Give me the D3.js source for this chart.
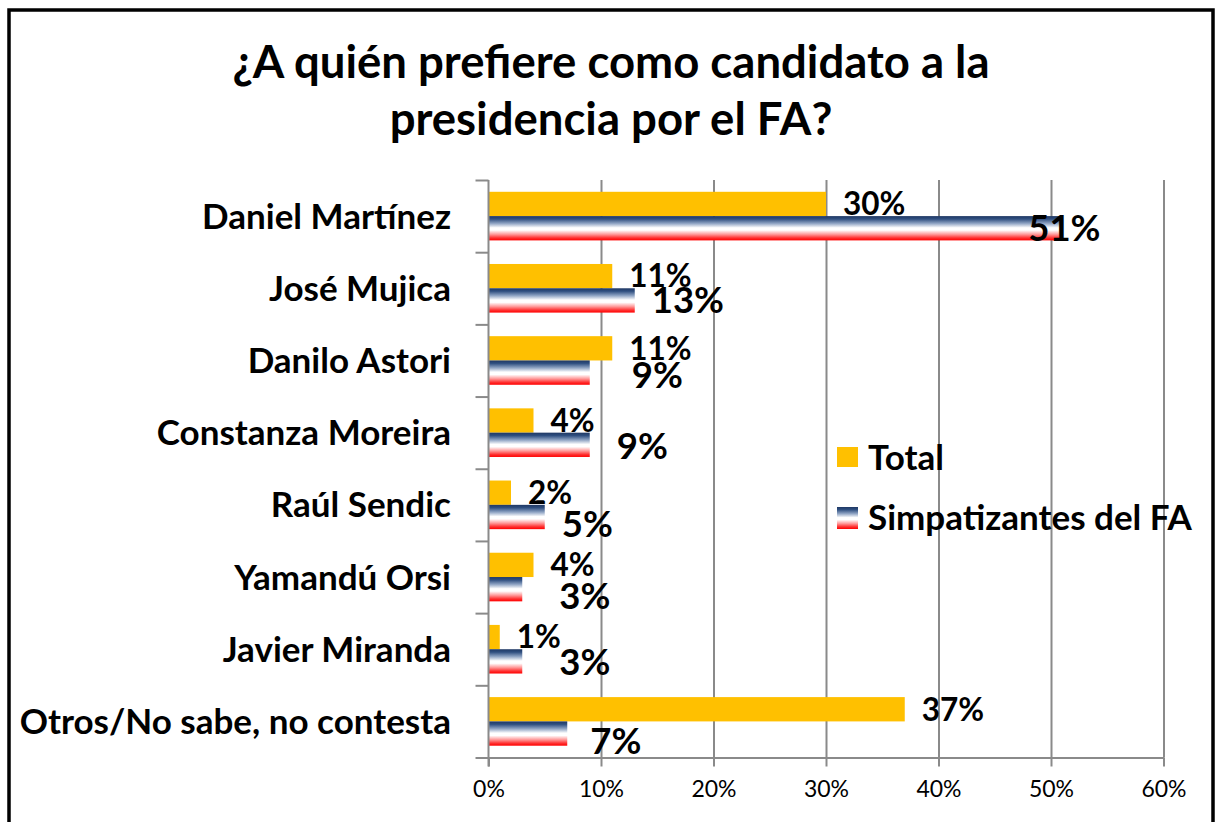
<!DOCTYPE html>
<html>
<head>
<meta charset="utf-8">
<script src="https://cdn.jsdelivr.net/npm/d3@7"></script>
<style>
  html, body { margin: 0; padding: 0; background: #fff; }
  svg { display: block; font-family: Lato, "Open Sans", sans-serif; }
</style>
</head>
<body>
<div id="chart"><svg></svg></div>
<script>
const categories = ['Daniel Martínez', 'José Mujica', 'Danilo Astori', 'Constanza Moreira',
    'Raúl Sendic', 'Yamandú Orsi', 'Javier Miranda', 'Otros/No sabe, no contesta'];
const totalValues = [30, 11, 11, 4, 2, 4, 1, 37];
const simpValues = [51, 13, 9, 9, 5, 3, 3, 7];
const seriesNames = ['Total', 'Simpatizantes del FA'];
const xTicks = [0, 10, 20, 30, 40, 50, 60];
const titleLines = ['¿A quién prefiere como candidato a la', 'presidencia por el FA?'];

// hand-placed label nudges of the original (px)
const simpLabelDx = [-51, 0, 25, 10, 0, 20, 20, 6];
const simpLabelDy = [0, -1, 2, 1, 7, 7, 0, 7];

const W = 1216, H = 822;
const PLOT = {left: 488.5, right: 1163.5, top: 180, bottom: 757.5};
const GRID = '#8a8a8a';
const ORANGE = '#FFC000';

const svg = d3.select('svg').attr('width', W).attr('height', H);

const defs = svg.append('defs');
const grad = defs.append('linearGradient')
    .attr('id', 'fa')
    .attr('x1', 0).attr('y1', 0).attr('x2', 0).attr('y2', 1);
[[0, '#1f3864'], [0.12, '#2f4f80'], [0.3, '#8ea3c3'], [0.48, '#ffffff'], [0.58, '#ffffff'],
 [0.75, '#ff9a9a'], [0.9, '#ff3030'], [1, '#ff0000']].forEach(([o, c]) => {
    grad.append('stop').attr('offset', o).attr('stop-color', c);
});

// outer frame
svg.append('rect')
    .attr('x', 9).attr('y', 10)
    .attr('width', 1204).attr('height', 840)
    .attr('fill', 'none').attr('stroke', '#000').attr('stroke-width', 3.5);

svg.append('g').selectAll('text')
    .data(titleLines)
    .enter()
    .append('text')
    .attr('x', 611)
    .attr('y', (d, i) => 78 + i * 57)
    .attr('text-anchor', 'middle')
    .attr('font-size', 45.5)
    .attr('font-weight', 700)
    .text(d => d);

const x = d3.scaleLinear().domain([0, 60]).range([PLOT.left, PLOT.right]);
const y = d3.scaleBand().domain(categories).range([PLOT.top, PLOT.bottom]);
const sub = d3.scaleBand().domain(seriesNames).range([0, y.bandwidth()]).paddingOuter(0.485);
const yEdge = d3.scaleLinear().domain([0, categories.length]).range([PLOT.top, PLOT.bottom]);

// gridlines
svg.append('g')
    .attr('transform', `translate(0,${PLOT.bottom})`)
    .call(d3.axisBottom(x).tickValues(xTicks.slice(1)).tickFormat('').tickSize(-(PLOT.bottom - PLOT.top)).tickSizeOuter(0))
    .call(g => g.select('.domain').remove())
    .call(g => g.selectAll('line').attr('stroke', GRID).attr('stroke-width', 2));

const chart = svg.append('g');

const rows = chart.selectAll('.row')
    .data(categories)
    .enter()
    .append('g')
    .attr('transform', d => `translate(0,${y(d)})`);

rows.append('rect')
    .attr('x', x(0))
    .attr('y', sub('Total'))
    .attr('width', (d, i) => x(totalValues[i]) - x(0))
    .attr('height', sub.bandwidth())
    .attr('fill', ORANGE);

rows.append('rect')
    .attr('x', x(0))
    .attr('y', sub('Simpatizantes del FA'))
    .attr('width', (d, i) => x(simpValues[i]) - x(0))
    .attr('height', sub.bandwidth())
    .attr('fill', 'url(#fa)');

rows.append('text')
    .attr('x', (d, i) => x(totalValues[i]) + 17)
    .attr('y', sub('Total') + sub.bandwidth() / 2)
    .attr('dy', '0.36em')
    .attr('font-size', 31.5)
    .attr('font-weight', 700)
    .text((d, i) => totalValues[i] + '%');

rows.append('text')
    .attr('x', (d, i) => x(simpValues[i]) + 17 + simpLabelDx[i])
    .attr('y', (d, i) => sub('Simpatizantes del FA') + sub.bandwidth() / 2 + simpLabelDy[i])
    .attr('dy', '0.36em')
    .attr('font-size', 36.5)
    .attr('font-weight', 700)
    .text((d, i) => simpValues[i] + '%');

// axes
svg.append('g')
    .attr('transform', `translate(${PLOT.left},0)`)
    .call(d3.axisLeft(yEdge).tickValues(d3.range(categories.length + 1)).tickFormat('').tickSize(13).tickSizeOuter(0))
    .call(g => g.select('.domain').attr('stroke', GRID).attr('stroke-width', 2).attr('d', `M0,${PLOT.top}V${PLOT.bottom + 9}`))
    .call(g => g.selectAll('line').attr('stroke', GRID).attr('stroke-width', 2));

svg.append('g')
    .attr('transform', `translate(0,${PLOT.bottom})`)
    .call(d3.axisBottom(x).tickValues(xTicks).tickFormat(d => d + '%').tickSize(9).tickSizeOuter(0).tickPadding(14))
    .call(g => g.select('.domain').attr('stroke', GRID).attr('stroke-width', 2))
    .call(g => g.selectAll('line').attr('stroke', GRID).attr('stroke-width', 2))
    .call(g => g.selectAll('text').attr('font-family', 'Lato').attr('font-size', 23).attr('fill', '#000'));

svg.append('g').selectAll('text')
    .data(categories)
    .enter()
    .append('text')
    .attr('x', 451)
    .attr('y', d => y(d) + y.bandwidth() / 2)
    .attr('dy', '0.36em')
    .attr('text-anchor', 'end')
    .attr('font-size', 35)
    .attr('font-weight', 700)
    .text(d => d);

// legend
const legend = svg.append('g').attr('transform', 'translate(837,447)');
const items = legend.selectAll('g')
    .data(seriesNames)
    .enter()
    .append('g')
    .attr('transform', (d, i) => `translate(0,${i * 60})`);
items.append('rect')
    .attr('width', 21).attr('height', (d, i) => i ? 22 : 20)
    .attr('fill', (d, i) => i ? 'url(#fa)' : ORANGE);
items.append('text')
    .attr('x', 31).attr('y', 10)
    .attr('dy', '0.36em')
    .attr('font-size', 35)
    .attr('font-weight', 700)
    .text(d => d);
</script>
</body>
</html>
